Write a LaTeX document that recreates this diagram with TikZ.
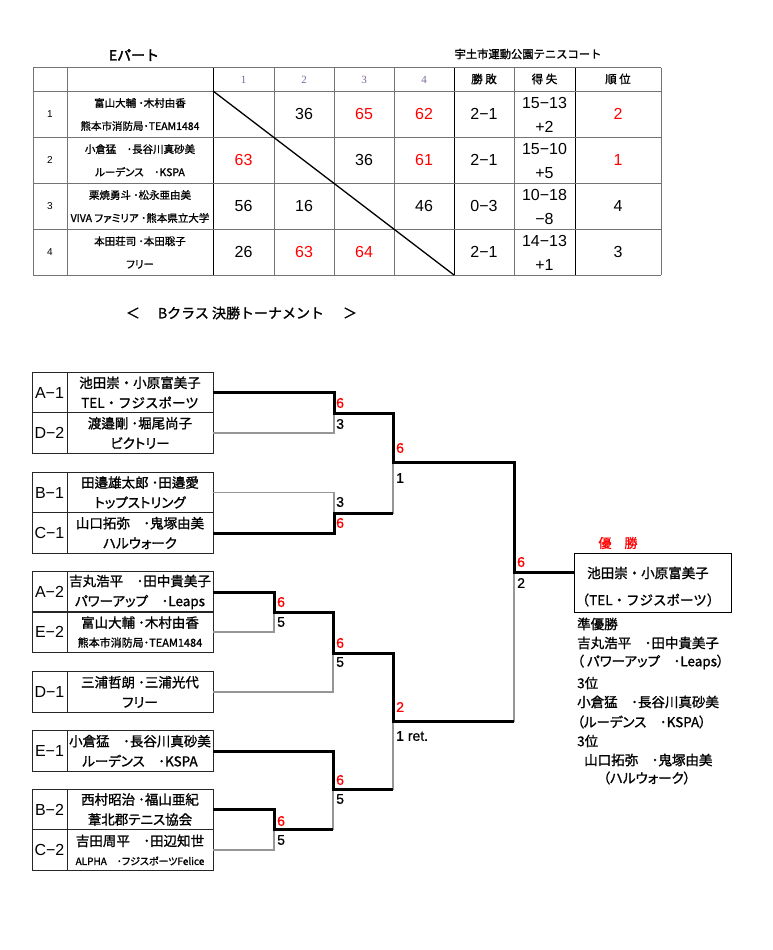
\documentclass[tikz,border=0pt]{standalone}
\usepackage{fontspec}
\setmainfont{Liberation Sans}
\newfontfamily\jp[RawFeature={+palt;embolden=1.2}]{Noto Sans CJK JP}
\newfontfamily\jpf[RawFeature={embolden=1.2}]{Noto Sans CJK JP}
\newfontfamily\jpb[RawFeature={embolden=2.6}]{Noto Sans CJK JP}
\newfontfamily\srf{Liberation Serif}
\newfontfamily\arb[RawFeature={embolden=0.8}]{Liberation Sans}
\newcommand\mysz[2]{\fontsize{#1}{#2}\selectfont}
\definecolor{scred}{RGB}{255,0,0}
\definecolor{hdr}{RGB}{128,100,160}
\definecolor{tgray}{RGB}{115,115,115}
\definecolor{lgray}{RGB}{150,150,150}
\begin{document}
\begin{tikzpicture}[x=1pt,y=-1pt,
  tline/.style={draw=tgray,line width=1pt},
  tdark/.style={draw=black,line width=1pt},
  sc/.style={font=\mysz{16}{24}, align=center, inner sep=0},
  scr/.style={sc, text=scred},
  tname/.style={font=\jp\mysz{10.5}{23}, align=center, inner sep=0},
  rownum/.style={font=\mysz{10}{12}, inner sep=0},
  hnum/.style={font=\srf\mysz{11}{12}, text=hdr, inner sep=0},
  hjp/.style={font=\jpf\mysz{11.5}{12}, inner sep=0},
  lab/.style={draw=black!85, line width=0.9pt, minimum width=35, minimum height=40.5, inner sep=0, font=\mysz{16}{16}},
  cell/.style={draw=black!85, line width=0.9pt, minimum width=146, minimum height=40.5, inner sep=0, align=center, font=\jp\mysz{13.5}{20}},
  thinl/.style={draw=lgray, line width=1.1pt},
  win/.style={draw=black, line width=3pt, line join=miter},
  bs/.style={anchor=west, inner sep=0, font=\arb\mysz{14}{14}},
  rs/.style={bs, text=scred},
  rp/.style={anchor=west, inner sep=0, font=\jp\mysz{13.5}{16}}
]
\useasboundingbox (0,0) rectangle (773,950);
\fill[white] (0,0) rectangle (773,950);

% ---------------- titles
\node[font=\jpb\mysz{14}{16}, inner sep=0] (tE) at (134,55) {Eパート};
\node[font=\jpf\mysz{11.3}{13}, inner sep=0] (tV) at (528,54) {宇土市運動公園テニスコート};

% ---------------- table grid
\foreach \x in {33,67,274,334,394,514,661} \draw[tline] (\x,68) -- (\x,275);
\foreach \x in {213,454,575} \draw[tdark] (\x,68) -- (\x,275);
\foreach \y in {68,91,137,183,229,275} \draw[tline] (33,\y) -- (661,\y);
\draw[line width=1.3pt] (213,91) -- (454,275);

% header
\node[hnum] (h1) at (243.5,80) {1};
\node[hnum] (h2) at (304,80) {2};
\node[hnum] (h3) at (364,80) {3};
\node[hnum] (h4) at (424,80) {4};
\node[hjp] (h5) at (484,79) {勝 敗};
\node[hjp] (h6) at (544.5,79) {得 失};
\node[hjp] (h7) at (618,79) {順 位};

% row numbers
\node[rownum] (r1) at (50,114) {1};
\node[rownum] (r2) at (50,160) {2};
\node[rownum] (r3) at (50,206) {3};
\node[rownum] (r4) at (50,252) {4};

% names
\node[tname] (p1) at (140,114.5) {富山大輔 ･木村由香\\熊本市消防局･TEAM1484};
\node[tname] (p2) at (140,160.5) {小倉猛　･長谷川真砂美\\ルーデンス　･KSPA};
\node[tname] (p3) at (140,206.5) {栗焼勇斗 ･松永亜由美\\VIVA ファミリア ･熊本県立大学};
\node[tname] (p4) at (140,252.5) {本田荘司 ･本田聡子\\フリー};

% scores row 1
\node[sc]  (a12) at (304,114) {36};
\node[scr] (a13) at (364,114) {65};
\node[scr] (a14) at (424,114) {62};
\node[sc]  (a1w) at (484,114) {2−1};
\node[sc]  (a1p) at (544.5,115) {15−13\\+2};
\node[scr] (a1r) at (618,114) {2};
% row 2
\node[scr] (a21) at (243.5,160) {63};
\node[sc]  (a23) at (364,160) {36};
\node[scr] (a24) at (424,160) {61};
\node[sc]  (a2w) at (484,160) {2−1};
\node[sc]  (a2p) at (544.5,161) {15−10\\+5};
\node[scr] (a2r) at (618,160) {1};
% row 3
\node[sc]  (a31) at (243.5,206) {56};
\node[sc]  (a32) at (304,206) {16};
\node[sc]  (a34) at (424,206) {46};
\node[sc]  (a3w) at (484,206) {0−3};
\node[sc]  (a3p) at (544.5,207) {10−18\\−8};
\node[sc]  (a3r) at (618,206) {4};
% row 4
\node[sc]  (a41) at (243.5,252) {26};
\node[scr] (a42) at (304,252) {63};
\node[scr] (a43) at (364,252) {64};
\node[sc]  (a4w) at (484,252) {2−1};
\node[sc]  (a4p) at (544.5,253) {14−13\\+1};
\node[sc]  (a4r) at (618,252) {3};

% ---------------- bracket title
\node[font=\jpf\mysz{14}{16}, inner sep=0] (bl) at (133,313) {＜};
\node[font=\jpf\mysz{14}{16}, inner sep=0] (bt) at (241,313) {Bクラス 決勝トーナメント};
\node[font=\jpf\mysz{14}{16}, inner sep=0] (br) at (350,313) {＞};

% ---------------- bracket boxes
\node[lab]  (lA1) at (49.5,392.5) {A−1};
\node[cell, font=\jpf\mysz{13.5}{20}] (nA1) at (140,392.5) {池田崇・小原富美子\\TEL・フジスポーツ};
\node[lab]  (lD2) at (49.5,433) {D−2};
\node[cell] (nD2) at (140,433) {渡邉剛 ･堀尾尚子\\ビクトリー};

\node[lab]  (lB1) at (49.5,492.5) {B−1};
\node[cell] (nB1) at (140,492.5) {田邉雄太郎 ･田邉愛\\トップストリング};
\node[lab]  (lC1) at (49.5,533) {C−1};
\node[cell] (nC1) at (140,533) {山口拓弥　･鬼塚由美\\ハルウォーク};

\node[lab]  (lA2) at (49.5,592) {A−2};
\node[cell] (nA2) at (140,592) {吉丸浩平　･田中貴美子\\パワーアップ　･Leaps};
\node[lab]  (lE2) at (49.5,632) {E−2};
\node[cell] (nE2) at (140,632) {富山大輔 ･木村由香\\[-1pt]{\mysz{11}{13}熊本市消防局･TEAM1484}};

\node[lab]  (lD1) at (49.5,692) {D−1};
\node[cell] (nD1) at (140,692) {三浦哲朗 ･三浦光代\\フリー};

\node[lab]  (lE1) at (49.5,751) {E−1};
\node[cell] (nE1) at (140,751) {小倉猛　･長谷川真砂美\\ルーデンス　･KSPA};

\node[lab]  (lB2) at (49.5,809.5) {B−2};
\node[cell] (nB2) at (140,809.5) {西村昭治 ･福山亜紀\\葦北郡テニス協会};
\node[lab]  (lC2) at (49.5,850) {C−2};
\node[cell] (nC2) at (140,850) {吉田周平　･田辺知世\\[-1pt]{\mysz{10}{12}ALPHA　･フジスポーツFelice}};

% champion box
\node[draw=black, line width=1pt, minimum width=157, minimum height=59, inner sep=0] (champ) at (652.5,582.5) {};
\node[font=\jpf\mysz{13.5}{16}, inner sep=0] (c1) at (648,573) {池田崇・小原富美子};
\node[font=\jpf\mysz{13.5}{16}, inner sep=0] (c2) at (648,600) {（TEL・フジスポーツ）};
\node[font=\jpf\mysz{13}{16}, inner sep=0, text=scred] (cw) at (618,543) {優　勝};

% ---------------- bracket lines
\coordinate (m1) at (334,413);
\coordinate (m2) at (334,513);
\coordinate (m3) at (274,612);
\coordinate (m4) at (333,653);
\coordinate (m5) at (274,829);
\coordinate (m6) at (333,789);
\coordinate (s1) at (393,462);
\coordinate (s2) at (393,721);
\coordinate (fi) at (514,572);

\draw[thinl] (nD2.east) -| (m1);
\draw[thinl] (nB1.east) -| (m2);
\draw[thinl] (m2) -| (s1);
\draw[thinl] (nE2.east) -| (m3);
\draw[thinl] (nD1.east) -| (m4);
\draw[thinl] (nC2.east) -| (m5);
\draw[thinl] (m5) -| (m6);
\draw[thinl] (m6) -| (s2);
\draw[thinl] (s2) -| (fi);

\draw[win] (nA1.east) -| (m1) -| (s1) -| (fi) -- (fi -| champ.west);
\draw[win] (nC1.east) -| (m2) -- (m2 -| s1);
\draw[win] (nA2.east) -| (m3) -| (m4) -| (s2) -- (s2 -| fi);
\draw[win] (nE1.east) -| (m6) -- (m6 -| s2);
\draw[win] (nB2.east) -| (m5) -- (m5 -| m6);

% ---------------- scores in bracket
\node[rs] (k1a) at (336,403) {6};
\node[bs] (k1b) at (336,424) {3};
\node[bs] (k2a) at (336,502) {3};
\node[rs] (k2b) at (336,523) {6};
\node[rs] (k3a) at (396,448) {6};
\node[bs] (k3b) at (396,478) {1};
\node[rs] (k4a) at (517,562) {6};
\node[bs] (k4b) at (517,583) {2};
\node[rs] (k5a) at (277,602) {6};
\node[bs] (k5b) at (277,622) {5};
\node[rs] (k6a) at (336,643) {6};
\node[bs] (k6b) at (336,662) {5};
\node[rs] (k7a) at (396,707) {2};
\node[bs] (k7b) at (396,736) {1 ret.};
\node[rs] (k8a) at (336,780) {6};
\node[bs] (k8b) at (336,799) {5};
\node[rs] (k9a) at (277,821) {6};
\node[bs] (k9b) at (277,840) {5};

% ---------------- results
\node[rp] (q1) at (577,624) {準優勝};
\node[rp] (q2) at (577,643) {吉丸浩平　･田中貴美子};
\node[rp] (q3) at (577,662) {（ パワーアップ　･Leaps）};
\node[rp] (q4) at (577,683) {3位};
\node[rp] (q5) at (577,702) {小倉猛　･長谷川真砂美};
\node[rp] (q6) at (577,722) {（ルーデンス　･KSPA）};
\node[rp] (q7) at (577,741) {3位};
\node[rp] (q8) at (584,760) {山口拓弥　･鬼塚由美};
\node[rp] (q9) at (603,778) {（ハルウォーク）};
\end{tikzpicture}
\end{document}
